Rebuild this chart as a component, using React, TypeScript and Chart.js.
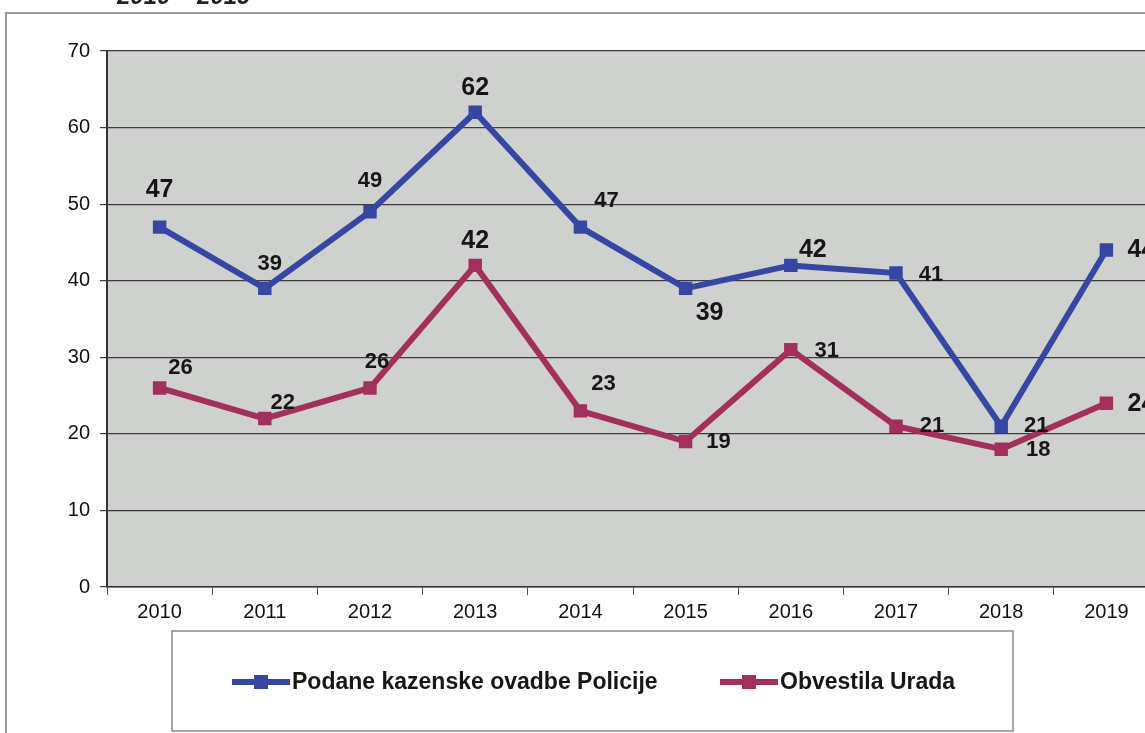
import React, { useEffect, useRef } from "react";
import { Chart, registerables } from "chart.js";

Chart.register(...registerables);

const years = ["2010", "2011", "2012", "2013", "2014", "2015", "2016", "2017", "2018", "2019"];
const policija = [47, 39, 49, 62, 47, 39, 42, 41, 21, 44];
const urad = [26, 22, 26, 42, 23, 19, 31, 21, 18, 24];
const seriesNames = ["Podane kazenske ovadbe Policije", "Obvestila Urada"];
const yTicks = [0, 10, 20, 30, 40, 50, 60, 70];
const titleText = "2010 – 2019";

// label styling: [dx, dy, big]
const policijaLabelStyle: [number, number, boolean][] = [
  [0, -37, true], [5, -24, false], [0, -31, false], [0, -24, true], [26, -26, false],
  [24, 25, true], [22, -15, true], [35, 2, false], [35, 0, false], [35, 0, true],
];
const uradLabelStyle: [number, number, boolean][] = [
  [21, -20, false], [18, -16, false], [7, -26, false], [0, -24, true], [23, -27, false],
  [33, 0, false], [36, 1, false], [36, 0, false], [37, 1, false], [35, 1, true],
];

const BLUE = "#3547a3";
const RED = "#a22f5c";
const FONT = "'Liberation Sans', Arial, sans-serif";

export default function App() {
  const ref = useRef<HTMLCanvasElement | null>(null);
  useEffect(() => {
    if (!ref.current) return;
    const styles = [policijaLabelStyle, uradLabelStyle];
    const plugin = {
      id: "custom",
      beforeDraw(chart: any) {
        const { ctx, chartArea } = chart;
        ctx.save();
        ctx.fillStyle = "#fff";
        ctx.fillRect(0, 0, chart.width, chart.height);
        ctx.fillStyle = "#cfd1cf";
        ctx.fillRect(chartArea.left, chartArea.top, chartArea.right - chartArea.left, chartArea.bottom - chartArea.top);
        ctx.strokeStyle = "#9a9a9a";
        ctx.lineWidth = 2;
        ctx.beginPath();
        ctx.moveTo(6, chart.height + 5);
        ctx.lineTo(6, 13);
        ctx.lineTo(chart.width + 5, 13);
        ctx.stroke();
        ctx.fillStyle = "#222";
        ctx.font = "italic bold 24px " + FONT;
        ctx.textBaseline = "alphabetic";
        ctx.textAlign = "left";
        ctx.fillText(titleText, 117, 4);
        ctx.restore();
      },
      afterDatasetsDraw(chart: any) {
        const { ctx } = chart;
        ctx.save();
        ctx.fillStyle = "#161616";
        ctx.textAlign = "center";
        ctx.textBaseline = "middle";
        chart.data.datasets.forEach((ds: any, di: number) => {
          const meta = chart.getDatasetMeta(di);
          meta.data.forEach((pt: any, i: number) => {
            const [dx, dy, big] = styles[di][i];
            ctx.font = big ? "bold 25px " + FONT : "bold 22px " + FONT;
            ctx.fillText(String(ds.data[i]), pt.x + dx, pt.y + dy);
          });
        });
        ctx.strokeStyle = "#8a8a8a";
        ctx.lineWidth = 1.5;
        ctx.strokeRect(172, 631, 841, 100);
        const items = [
          { x: 232, color: BLUE, text: seriesNames[0] },
          { x: 720, color: RED, text: seriesNames[1] },
        ];
        const ly = 682;
        items.forEach((it) => {
          ctx.strokeStyle = it.color;
          ctx.lineWidth = 6;
          ctx.beginPath();
          ctx.moveTo(it.x, ly);
          ctx.lineTo(it.x + 58, ly);
          ctx.stroke();
          ctx.fillStyle = it.color;
          ctx.fillRect(it.x + 22, ly - 7, 14, 14);
          ctx.fillStyle = "#161616";
          ctx.font = "bold 23px " + FONT;
          ctx.textAlign = "left";
          ctx.textBaseline = "middle";
          ctx.fillText(it.text, it.x + 60, ly + 1);
        });
        ctx.restore();
      },
    };
    const chart = new Chart(ref.current, {
      type: "line",
      data: {
        labels: years,
        datasets: [
          {
            label: seriesNames[0],
            data: policija,
            borderColor: BLUE,
            backgroundColor: BLUE,
            borderWidth: 6,
            pointStyle: "rect",
            pointRadius: 9.5,
            pointBorderWidth: 0,
            tension: 0,
          },
          {
            label: seriesNames[1],
            data: urad,
            borderColor: RED,
            backgroundColor: RED,
            borderWidth: 6,
            pointStyle: "rect",
            pointRadius: 9.5,
            pointBorderWidth: 0,
            tension: 0,
          },
        ],
      },
      options: {
        responsive: false,
        animation: false,
        devicePixelRatio: 1,
        layout: { padding: { left: 0, top: 51, right: 21, bottom: 106 } },
        plugins: { legend: { display: false }, tooltip: { enabled: false } },
        scales: {
          x: {
            offset: true,
            afterFit(scale: any) {
              scale.height = 40;
            },
            grid: {
              offset: true,
              drawOnChartArea: false,
              tickLength: 8,
              color: "#555",
            },
            border: { color: "#333", width: 1.5 },
            ticks: {
              color: "#111",
              padding: 5,
              font: { family: FONT, size: 20 },
            },
          },
          y: {
            min: 0,
            max: 70,
            afterFit(scale: any) {
              scale.width = 107;
            },
            afterBuildTicks(scale: any) {
              scale.ticks = yTicks.map((v) => ({ value: v }));
            },
            grid: { color: "#3c3c3c", lineWidth: 1.2, tickLength: 7 },
            border: { color: "#333", width: 2 },
            ticks: {
              color: "#111",
              padding: 10,
              font: { family: FONT, size: 20 },
            },
          },
        },
      },
      plugins: [plugin],
    });
    return () => chart.destroy();
  }, []);
  return (
    <div style={{ position: "absolute", left: 0, top: 0, width: 1145, height: 733, overflow: "hidden", background: "#fff" }}>
      <canvas ref={ref} width={1180} height={733} style={{ width: 1180, height: 733, display: "block" }} />
    </div>
  );
}
